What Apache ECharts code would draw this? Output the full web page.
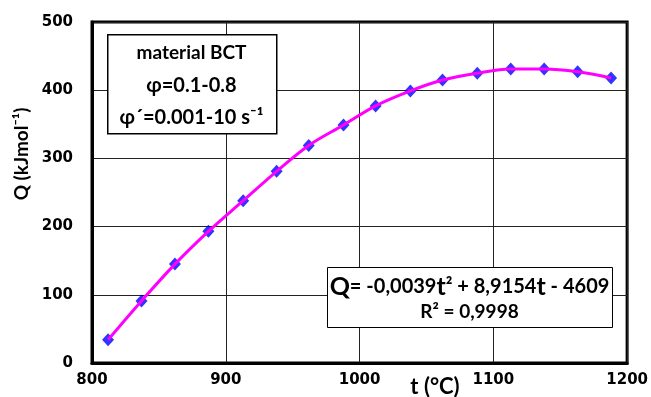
<!DOCTYPE html>
<html><head><meta charset="utf-8">
<script src="https://cdn.jsdelivr.net/npm/echarts@6/dist/echarts.min.js"></script>
<style>html,body{margin:0;padding:0;background:#fff}#c{width:651px;height:397px}</style>
</head><body><div id="c"></div>
<script>
const temps = [812, 837, 862, 887, 913, 938, 962, 988, 1012, 1038, 1062, 1088, 1113, 1138, 1163, 1188];
const qValues = [34, 91, 145, 193, 238, 281, 319, 349, 377, 399, 415, 425, 431, 431, 427, 418];
const xTicks = [800, 900, 1000, 1100, 1200];
const yTicks = [0, 100, 200, 300, 400, 500];

const pts = temps.map((t, i) => [t, qValues[i]]);
const chart = echarts.init(document.getElementById('c'), null, {renderer: 'canvas'});
const labelFont = {color: '#000', fontWeight: 'bold', fontSize: 15, fontFamily: 'DejaVu Sans', formatter: v => String(v)};
const boxFont = 'Lato';
chart.setOption({
  animation: false,
  backgroundColor: '#fff',
  grid: {left: 92, right: 15, top: 22, bottom: 34, show: true, borderColor: '#000', borderWidth: 3, backgroundColor: 'transparent'},
  xAxis: {
    type: 'value', min: xTicks[0], max: xTicks[xTicks.length - 1], interval: 100,
    axisLine: {show: true, lineStyle: {color: '#000', width: 3}},
    axisTick: {show: false},
    splitLine: {show: true, lineStyle: {color: '#222', width: 1}},
    axisLabel: Object.assign({margin: 10}, labelFont)
  },
  yAxis: {
    type: 'value', min: yTicks[0], max: yTicks[yTicks.length - 1], interval: 100,
    axisLine: {show: true, lineStyle: {color: '#000', width: 3}},
    axisTick: {show: false},
    splitLine: {show: true, lineStyle: {color: '#222', width: 1}},
    axisLabel: Object.assign({margin: 19}, labelFont)
  },
  series: [
    {type: 'scatter', data: pts, symbol: 'diamond', symbolSize: [12, 13], itemStyle: {color: '#0000ff'}, z: 2},
    {type: 'line', data: pts, smooth: 0.35, showSymbol: false, lineStyle: {color: '#ff00ff', width: 3}, z: 3}
  ],
  graphic: [
    {type: 'rect', left: 107, top: 34, shape: {width: 169, height: 99}, style: {fill: '#fff', stroke: '#000', lineWidth: 1.5}, z: 10},
    {type: 'text', z: 11, style: {x: 191.5, y: 53, text: 'material BCT', align: 'center', verticalAlign: 'middle', font: 'bold 19px ' + boxFont, fill: '#000'}},
    {type: 'text', z: 11, style: {x: 191.5, y: 86, text: 'φ=0.1-0.8', align: 'center', verticalAlign: 'middle', font: 'bold 20px ' + boxFont, fill: '#000'}},
    {type: 'text', z: 11, style: {x: 191.5, y: 118, text: 'φ´=0.001-10 s⁻¹', align: 'center', verticalAlign: 'middle', font: 'bold 20px ' + boxFont, fill: '#000'}},
    {type: 'rect', left: 327, top: 267, shape: {width: 285, height: 60}, style: {fill: '#fff', stroke: '#000', lineWidth: 1}, z: 10},
    {type: 'text', z: 11, style: {x: 469.5, y: 287, align: 'center', verticalAlign: 'middle',
      text: '{b|Q}{s|= -0,0039}{b|t}{s|² + 8,9154}{b|t}{s| - 4609}',
      rich: {
        b: {font: 'bold 25px ' + boxFont, fill: '#000'},
        s: {font: 'bold 20px ' + boxFont, fill: '#000'}
      }}},
    {type: 'text', z: 11, style: {x: 469.5, y: 312, text: 'R² = 0,9998', align: 'center', verticalAlign: 'middle', font: 'bold 19px ' + boxFont, fill: '#000'}},
    {type: 'text', z: 11, style: {x: 435, y: 387, text: 't (°C)', align: 'center', verticalAlign: 'middle', font: 'bold 22px ' + boxFont, fill: '#000'}},
    {type: 'text', z: 11, rotation: Math.PI / 2, x: 22, y: 154, style: {x: 0, y: 0, text: 'Q (kJmol⁻¹)', align: 'center', verticalAlign: 'middle', font: 'bold 19px ' + boxFont, fill: '#000'}}
  ]
});
</script></body></html>
